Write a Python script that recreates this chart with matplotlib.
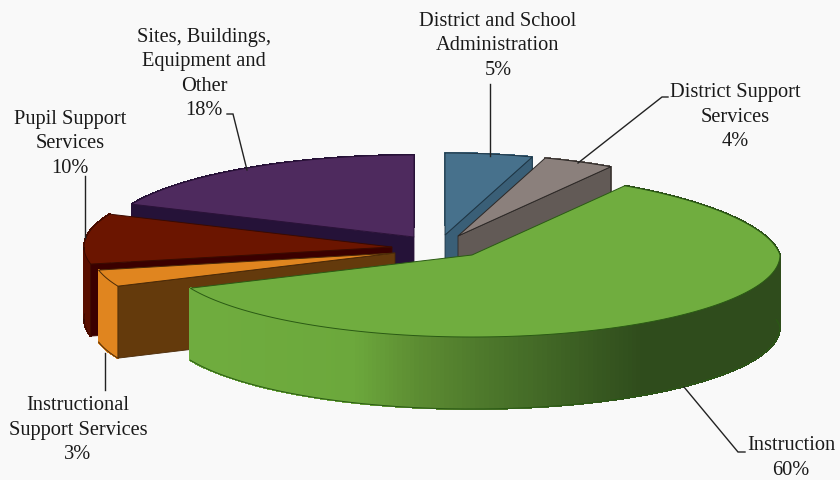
import numpy as np
import matplotlib
matplotlib.use('Agg')
import matplotlib.pyplot as plt
from matplotlib.patches import Polygon

# Budget shares, clockwise from 12 o'clock
categories = ['District and School\nAdministration', 'District Support\nServices', 'Instruction',
              'Instructional\nSupport Services', 'Pupil Support\nServices', 'Sites, Buildings,\nEquipment and\nOther']
values = [5, 4, 60, 3, 10, 18]

# Pie layout, in pixels: where each exploded slice has its tip and how wide it is
tips_x = [445, 458, 472, 395, 392, 414]
tips_y = [235, 236, 255, 253, 247, 237]
radii_x = [308, 308, 308, 303, 308, 308]
radius_y = 82
depth = 72

top_colors = ['#47718c', '#8b807c', '#70ad3f', '#e0851f', '#6b1500', '#4e2a5e']
cut_colors = ['#3a5f77', '#625a56', '#4d7a2b', '#643a0c', '#3a0000', '#251238']
wall_colors = ['#3a5f77', '#625a56', None, '#e0851f', '#5a0f00', '#251238']
edge_colors = ['#1f3645', '#2c2826', '#2a5a14', '#4a2a08', '#3a0a00', '#2a1238']

# Back slices go first so the front ones cover them
draw_order = [5, 4, 3, 0, 1, 2]

# Shading along the front of the big slice
shade_x = [-1.0, -0.43, -0.2, 0.16, 0.55, 1.0]
shade_rgb = np.array([[112, 173, 63], [108, 168, 60], [92, 140, 50], [70, 110, 40], [47, 76, 28], [47, 76, 28]]) / 255

# Label anchors
label_x = [498, 735, 791, 78, 70, 204]
label_y = [46, 117, 458, 430, 144, 74]
# Leader lines
leaders = [([490, 490], [84, 156]),
           ([668, 662, 578], [97, 97, 163]),
           ([745, 738, 684], [452, 452, 387]),
           ([105, 105], [390, 353]),
           ([85, 85], [176, 238]),
           ([227, 233, 247], [114, 114, 170])]


def project(i, t):
    # slight foreshortening on the left half, narrowing at the back right
    t = np.asarray(t, dtype=float)
    warped = np.where(t > 270, t - 1.6 * (360 - t) / 65,
                      np.where(t > 180, t - 3.3 * np.sin(np.radians(2 * t)), t))
    a = np.radians(warped)
    sx, sy = np.sin(a), np.cos(a)
    squeeze = np.where(sx > 0, 1 - 0.088 * np.maximum(sy, 0), 1.0)
    return tips_x[i] + radii_x[i] * squeeze * sx, tips_y[i] - radius_y * sy


plt.rcParams['font.family'] = ['Liberation Serif', 'DejaVu Serif']
fig = plt.figure(figsize=(8.4, 4.8), dpi=100, facecolor='#f9f9f9')
ax = fig.add_axes([0, 0, 1, 1])
ax.set_xlim(0, 840)
ax.set_ylim(480, 0)
ax.axis('off')

ends = np.cumsum(values) * 3.6
starts = ends - np.array(values) * 3.6

for i in draw_order:
    t = np.linspace(starts[i], ends[i], 240)
    x, y = project(i, t)

    # outer wall, built from thin strips
    for j in range(len(t) - 1):
        if wall_colors[i] is None:
            mid = (np.sin(np.radians(t[j])) + np.sin(np.radians(t[j + 1]))) / 2
            col = [np.interp(mid, shade_x, shade_rgb[:, k]) for k in range(3)]
        else:
            col = wall_colors[i]
        quad = [(x[j], y[j]), (x[j + 1], y[j + 1]), (x[j + 1], y[j + 1] + depth), (x[j], y[j] + depth)]
        ax.add_patch(Polygon(quad, closed=True, facecolor=col, edgecolor=col, linewidth=0.8, antialiased=False))

    # bottom outline of the wall, front side only
    front = np.cos(np.radians(t)) < 0.1
    ax.plot(x[front], y[front] + depth, color=edge_colors[i], lw=0.7)

    # cut faces that look towards the viewer
    for angle, normal in ((starts[i], starts[i] - 90), (ends[i], ends[i] + 90)):
        if np.cos(np.radians(normal)) < -1e-6:
            cx, cy = project(i, angle)
            quad = [(tips_x[i], tips_y[i]), (cx, cy), (cx, cy + depth), (tips_x[i], tips_y[i] + depth)]
            ax.add_patch(Polygon(quad, closed=True, facecolor=cut_colors[i], edgecolor=edge_colors[i], linewidth=0.6))

    # top face
    outline = np.column_stack([np.r_[tips_x[i], x], np.r_[tips_y[i], y]])
    ax.add_patch(Polygon(outline, closed=True, facecolor=top_colors[i], edgecolor=edge_colors[i], linewidth=0.7))

for (lx, ly) in leaders:
    ax.plot(lx, ly, color='#222222', lw=1.0, solid_joinstyle='miter')

for i in range(len(values)):
    ax.text(label_x[i], label_y[i], f'{categories[i]}\n{values[i]}%', ha='center', va='center',
            fontsize=14.7, color='#1a1a1a', linespacing=1.4)

plt.savefig('out.png', dpi=100, facecolor=fig.get_facecolor())
